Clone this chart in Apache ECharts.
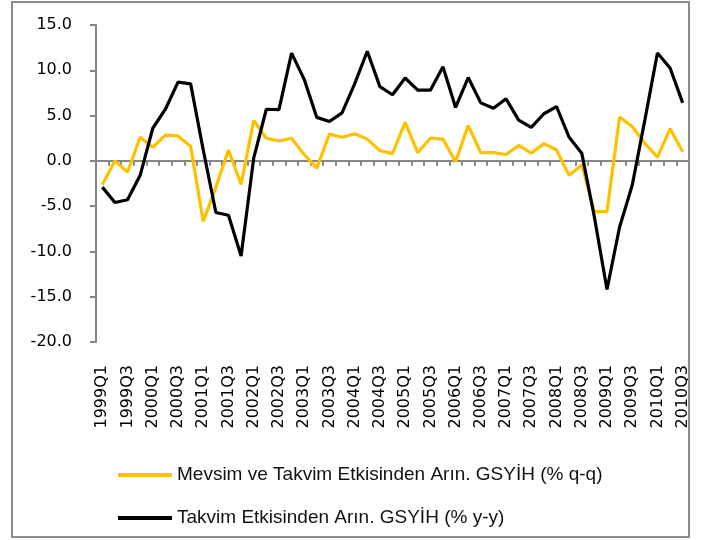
<!DOCTYPE html>
<html style="height: 100%; width: 100%">
<head>
  <meta charset="utf-8" />
</head>
<body style="height: 100%; width: 100%; margin: 0; background: #fff;">
  <div id="chart-panel" style="height: 540px; width: 715px;"></div>
  <script type="text/javascript" src="https://cdn.jsdelivr.net/npm/echarts@6/dist/echarts.min.js"></script>
  <script type="text/javascript">
    var quarters = [
      "1999Q1", "1999Q2", "1999Q3", "1999Q4", "2000Q1", "2000Q2", "2000Q3", "2000Q4",
      "2001Q1", "2001Q2", "2001Q3", "2001Q4", "2002Q1", "2002Q2", "2002Q3", "2002Q4",
      "2003Q1", "2003Q2", "2003Q3", "2003Q4", "2004Q1", "2004Q2", "2004Q3", "2004Q4",
      "2005Q1", "2005Q2", "2005Q3", "2005Q4", "2006Q1", "2006Q2", "2006Q3", "2006Q4",
      "2007Q1", "2007Q2", "2007Q3", "2007Q4", "2008Q1", "2008Q2", "2008Q3", "2008Q4",
      "2009Q1", "2009Q2", "2009Q3", "2009Q4", "2010Q1", "2010Q2", "2010Q3"
    ];
    // mevsim ve takvim etkisinden arindirilmis, ceyreklik degisim
    var qqGrowth = [
      -2.65, 0.0, -1.25, 2.6, 1.5, 2.85, 2.75, 1.6,
      -6.7, -2.9, 1.2, -2.6, 4.45, 2.5, 2.2, 2.5,
      0.7, -0.8, 2.95, 2.6, 3.0, 2.4, 1.15, 0.8,
      4.25, 0.9, 2.5, 2.4, -0.1, 3.9, 0.9, 0.9,
      0.7, 1.7, 0.85, 1.9, 1.2, -1.6, -0.45, -5.6,
      -5.6, 4.85, 3.8, 1.95, 0.4, 3.55, 1.0
    ];
    // takvim etkisinden arindirilmis, yillik degisim
    var yyGrowth = [
      -2.9, -4.6, -4.3, -1.6, 3.6, 5.7, 8.7, 8.5,
      1.2, -5.7, -6.0, -10.5, 0.3, 5.7, 5.65, 11.9,
      9.0, 4.8, 4.35, 5.3, 8.5, 12.1, 8.2, 7.3,
      9.15, 7.8, 7.8, 10.4, 5.9, 9.2, 6.4, 5.8,
      6.85, 4.5, 3.7, 5.2, 6.0, 2.6, 0.85, -6.2,
      -14.2, -7.3, -2.7, 4.5, 11.9, 10.25, 6.4
    ];
    var seriesNames = [
      "Mevsim ve Takvim Etkisinden Arın. GSYİH (% q-q)",
      "Takvim Etkisinden Arın. GSYİH (% y-y)"
    ];
    var yTicks = { min: -20, max: 15, step: 5 };

    var myChart = echarts.init(document.getElementById("chart-panel"));
    var axisGray = "#868686";

    var option = {
      animation: false,
      backgroundColor: "#ffffff",
      grid: { left: 96, right: 26, top: 25, bottom: 198 },
      graphic: [{
        type: "rect",
        shape: { x: 12, y: 2, width: 677, height: 535 },
        style: { fill: "none", stroke: "#8c8c8c", lineWidth: 2 },
        z: 100
      }],
      legend: {
        orient: "vertical",
        left: 113,
        top: 459,
        itemWidth: 54,
        itemHeight: 4,
        itemGap: 21,
        icon: "rect",
        data: seriesNames,
        textStyle: {
          fontFamily: "Liberation Sans",
          fontSize: 19,
          lineHeight: 22,
          color: "#111"
        }
      },
      xAxis: [
        {
          type: "category",
          data: quarters,
          boundaryGap: true,
          axisLine: { onZero: true, lineStyle: { color: axisGray, width: 2 } },
          axisTick: { show: true, interval: 0, length: 5, lineStyle: { color: axisGray, width: 2 } },
          axisLabel: { show: false },
          splitLine: { show: false }
        },
        {
          type: "category",
          data: quarters,
          boundaryGap: true,
          position: "bottom",
          axisLine: { show: false, onZero: false },
          axisTick: { show: false },
          axisLabel: {
            interval: 1,
            rotate: 90,
            margin: 23,
            fontFamily: "DejaVu Sans",
            fontSize: 16,
            color: "#000"
          },
          splitLine: { show: false }
        }
      ],
      yAxis: {
        type: "value",
        min: yTicks.min,
        max: yTicks.max,
        interval: yTicks.step,
        axisLine: { show: true, lineStyle: { color: axisGray, width: 2 } },
        axisTick: { show: true, length: 6, lineStyle: { color: axisGray, width: 2 } },
        splitLine: { show: false },
        axisLabel: {
          margin: 24,
          fontFamily: "DejaVu Sans",
          fontSize: 16,
          color: "#000",
          formatter: function (v) { return v.toFixed(1); }
        }
      },
      series: [
        {
          name: seriesNames[0],
          type: "line",
          xAxisIndex: 0,
          data: qqGrowth,
          symbol: "none",
          lineStyle: { color: "#FFC000", width: 3.2 },
          itemStyle: { color: "#FFC000" },
          z: 2
        },
        {
          name: seriesNames[1],
          type: "line",
          xAxisIndex: 0,
          data: yyGrowth,
          symbol: "none",
          lineStyle: { color: "#000000", width: 3.2 },
          itemStyle: { color: "#000000" },
          z: 3
        }
      ]
    };

    myChart.setOption(option);
  </script>
</body>
</html>
